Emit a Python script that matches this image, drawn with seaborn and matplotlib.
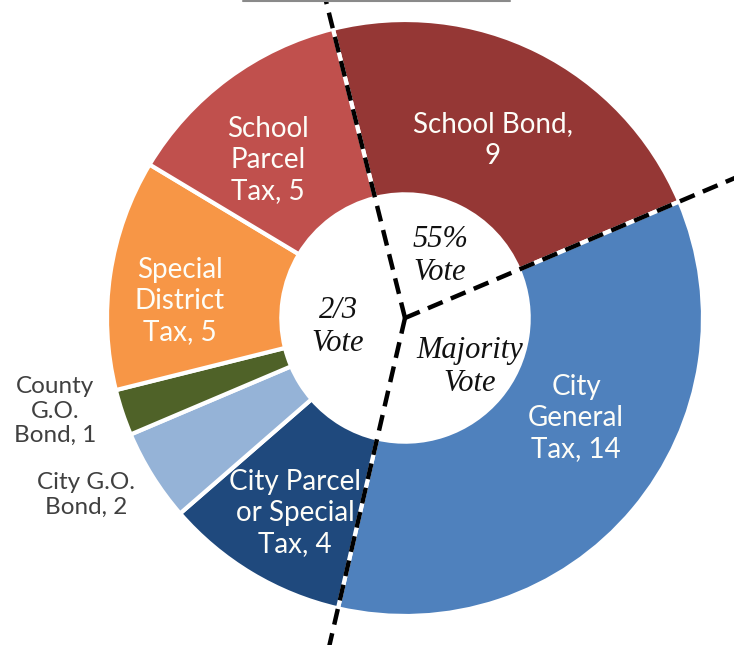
import numpy as np
import matplotlib
matplotlib.use("Agg")
import matplotlib.pyplot as plt
import seaborn as sns
from matplotlib.lines import Line2D

sns.set_theme(style="white")
plt.rcParams['font.family'] = ['Lato', 'DejaVu Sans']

# ---- data ----
categories = ["School Bond", "City General Tax", "City Parcel or Special Tax",
              "City G.O. Bond", "County G.O. Bond", "Special District Tax",
              "School Parcel Tax"]
values = [9, 14, 4, 2, 1, 5, 5]
slice_labels = ["School Bond,\n9", "City\nGeneral\nTax, 14", "City Parcel\nor Special\nTax, 4",
                "City G.O.\nBond, 2", "County\nG.O.\nBond, 1", "Special\nDistrict\nTax, 5",
                "School\nParcel\nTax, 5"]
vote_groups = ["55%\nVote", "Majority\nVote", "2/3\nVote"]

colors = ["#953735", "#4F81BD", "#1F497D", "#95B3D7", "#4F6228", "#F79646", "#C0504D"]

W, H = 734, 645
fig = plt.figure(figsize=(W / 100, H / 100), dpi=100)
ax = fig.add_axes([0, 0, 1, 1])

cx, cy = 405, H - 318
R = 298
start = 104
wedges, _ = ax.pie(values, colors=colors, startangle=start, counterclock=False,
                   radius=R, center=(cx, cy), frame=True,
                   wedgeprops=dict(width=R * 0.585, edgecolor="white", linewidth=3))
ax.set_xlim(0, W)
ax.set_ylim(0, H)
ax.set_aspect("equal")
ax.axis("off")

# label positions (pixel coords, y from top)
label_pos = [(493, 140), (576, 418), (295, 513), (86, 495), (55, 411), (180, 301), (268, 160)]
inside = [True, True, True, False, False, True, True]
for lab, (x, y), ins in zip(slice_labels, label_pos, inside):
    ax.text(x, H - y, lab, ha="center", va="center", fontsize=20 if ins else 17.5,
            color="#FDFDF8" if ins else "#404040", linespacing=1.25 if ins else 1.22)

# dashed group boundaries along wedge edges
total = sum(values)
bounds = [0, values[0], values[0] + values[1]]
for b in bounds:
    ang = np.deg2rad(start - 360 * b / total)
    L = 420
    ax.plot([cx, cx + L * np.cos(ang)], [cy, cy + L * np.sin(ang)],
            color="black", lw=3.2, ls=(0, (3.6, 2)), solid_capstyle="butt", clip_on=True)

vote_pos = [(440, 256), (470, 367), (338, 327)]
for lab, (x, y) in zip(vote_groups, vote_pos):
    ax.text(x, H - y, lab, ha="center", va="center", fontsize=22, style="italic",
            family="Liberation Serif", color="#111111", linespacing=1.15)

# cropped title underline
fig.add_artist(Line2D([243 / W, 510 / W], [1 - 1.0 / H, 1 - 1.0 / H],
                      color="#8a8a8a", lw=1.5, transform=fig.transFigure))

fig.savefig("out.png", dpi=100, facecolor="white")
